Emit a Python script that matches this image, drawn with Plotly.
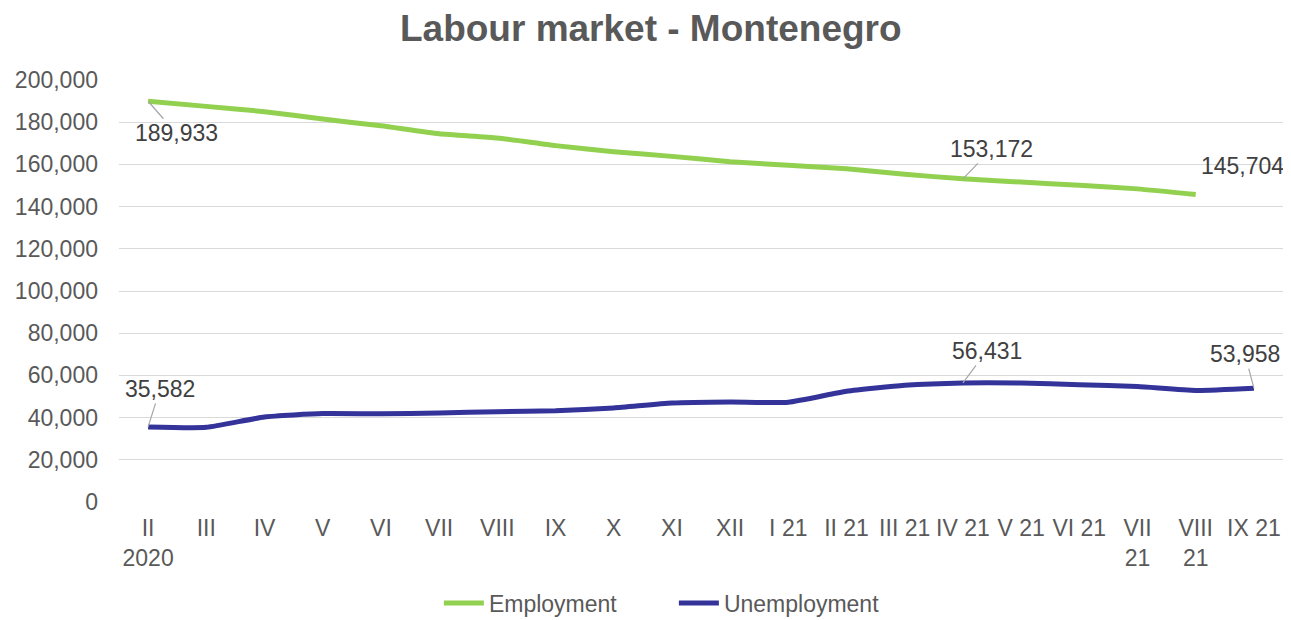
import plotly.graph_objects as go

categories = ["II<br>2020", "III", "IV", "V", "VI", "VII", "VIII", "IX", "X", "XI", "XII",
              "I 21", "II 21", "III 21", "IV 21", "V 21", "VI 21", "VII<br>21", "VIII<br>21", "IX 21"]

employment = [189933, 187500, 185000, 181500, 178300, 174500, 172500, 168900, 166000, 163800,
              161300, 159600, 157900, 155300, 153172, 151600, 150100, 148400, 145704]

unemployment = [35582, 35400, 40300, 41900, 41800, 42200, 42800, 43300, 44600, 46900,
                47400, 47300, 52500, 55300, 56431, 56400, 55600, 54700, 52900, 53958]

y_ticks = list(range(0, 200001, 20000))

# labelled points: (index, ax, ay, show leader)
emp_labels = [(0, 28, 32, True), (14, 29, -30, True), (18, 47, -29, False)]
unemp_labels = [(0, 12, -38, True), (14, 24, -32, True), (19, -9, -34, True)]

fig = go.Figure()
fig.add_trace(go.Scatter(x=categories[:len(employment)], y=employment, name="Employment",
                         mode="lines", line=dict(color="#92d050", width=5, shape="spline", smoothing=0.5)))
fig.add_trace(go.Scatter(x=categories, y=unemployment, name="Unemployment",
                         mode="lines", line=dict(color="#333399", width=5, shape="spline", smoothing=0.5)))

annotations = []
for series, labels in ((employment, emp_labels), (unemployment, unemp_labels)):
    for idx, ax, ay, leader in labels:
        val = series[idx]
        if leader:
            annotations.append(dict(x=categories[idx], y=val, xref="x", yref="y", text=f"{val:,}",
                                    showarrow=True, arrowhead=0, arrowwidth=1.2, arrowcolor="#a6a6a6",
                                    ax=ax, ay=ay, font=dict(size=23, color="#404040")))
        else:
            annotations.append(dict(x=categories[idx], y=val, xref="x", yref="y", text=f"{val:,}",
                                    showarrow=False, xshift=ax, yshift=-ay,
                                    font=dict(size=23, color="#404040")))

# the page body adds an 8px margin, so the figure is sized and placed to compensate
fig.update_layout(
    width=1283, height=612,
    paper_bgcolor="white", plot_bgcolor="white",
    font=dict(family="Liberation Sans, Arial, sans-serif", size=23, color="#595959"),
    title=dict(text="<b>Labour market - Montenegro</b>", x=0.501, xanchor="center",
               xref="container", yref="container", y=0.967,
               yanchor="middle", font=dict(size=37, color="#595959")),
    margin=dict(l=111, r=8, t=72, b=118, autoexpand=False),
    showlegend=True,
    legend=dict(orientation="h", xref="container", yref="container", x=0.519, xanchor="center",
                y=0.063, yanchor="top", font=dict(size=23, color="#595959"), tracegroupgap=0,
                entrywidth=180, entrywidthmode="pixels", itemwidth=40),
    annotations=annotations,
    xaxis=dict(type="category", categoryorder="array", categoryarray=categories,
               range=[-0.5, 19.5], showgrid=False, showline=False, ticks="",
               tickfont=dict(size=23, color="#595959"), ticklabelstandoff=10, zeroline=False),
    yaxis=dict(range=[0, 200000], tickvals=y_ticks, tickformat=",d", showgrid=True,
               gridcolor="#d9d9d9", gridwidth=1.3, zeroline=False, showline=False,
               tickfont=dict(size=23, color="#595959"), ticks="", ticklabelstandoff=20),
)

fig.write_html("out.html")
